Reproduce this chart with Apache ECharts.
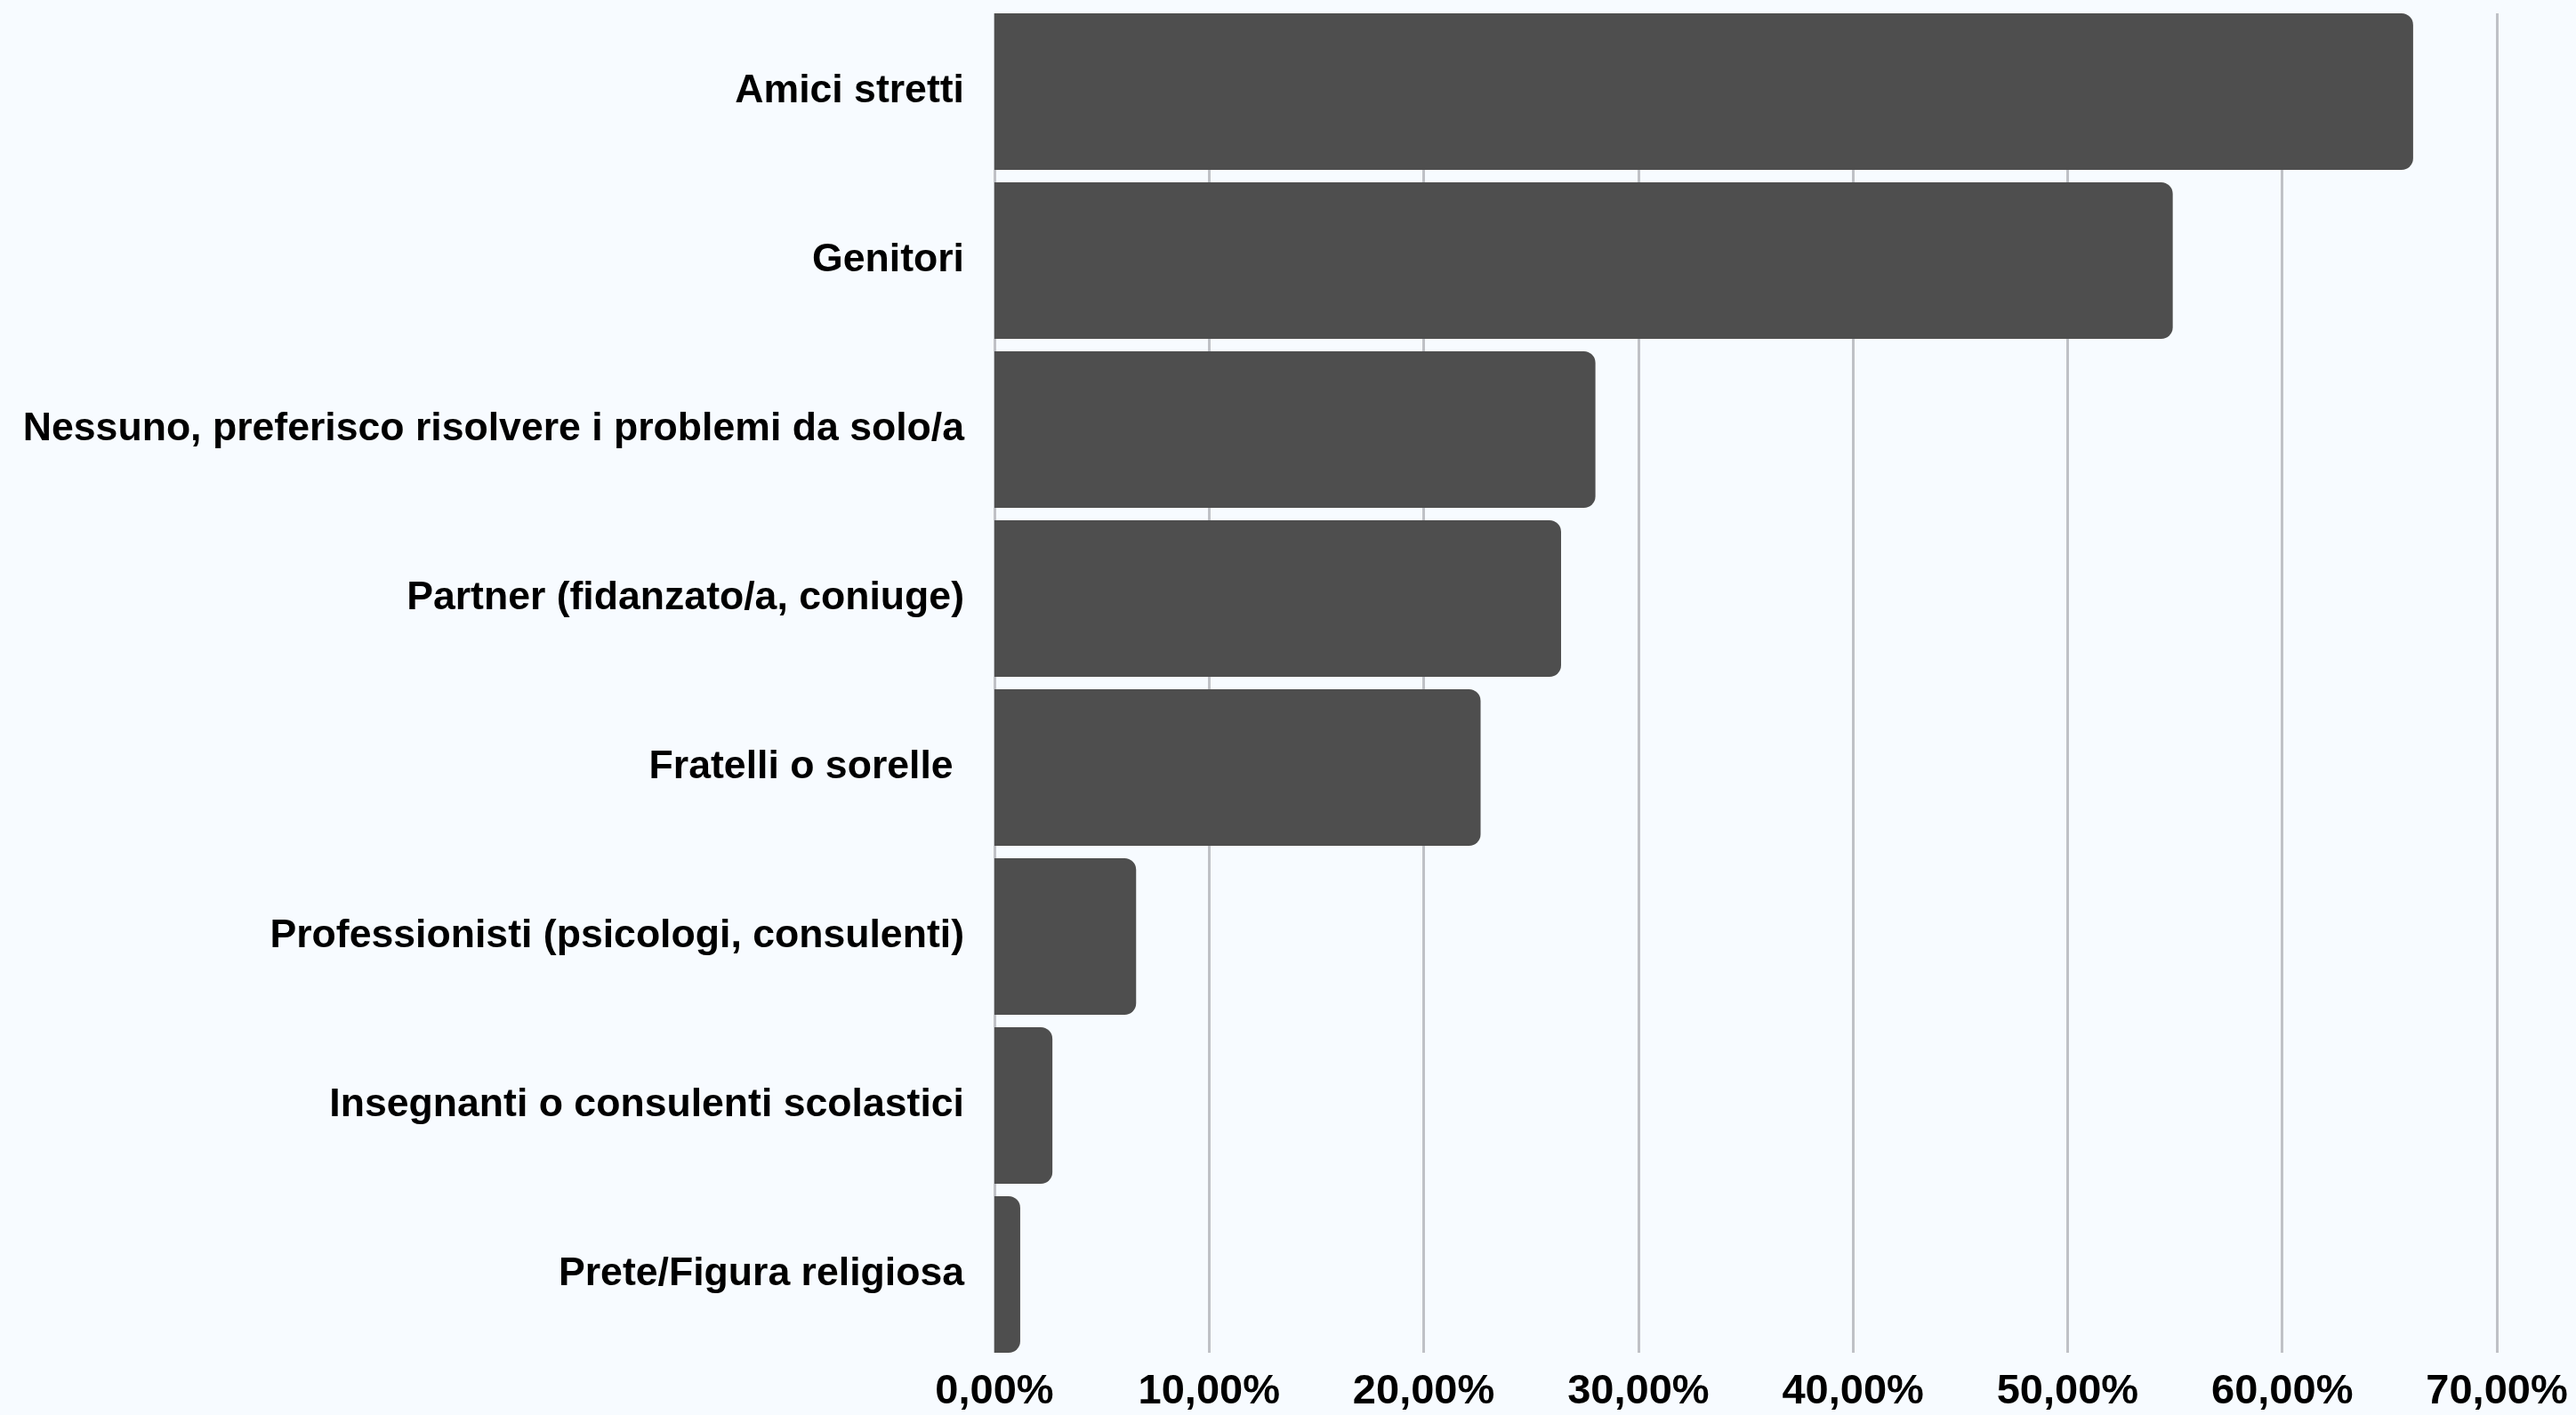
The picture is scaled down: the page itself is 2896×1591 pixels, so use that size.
<!DOCTYPE html>
<html>
<head>
<meta charset="utf-8">
<script src="https://cdn.jsdelivr.net/npm/echarts@6/dist/echarts.min.js"></script>
<style>
html,body{margin:0;padding:0;background:#f7fbff;}
#chart{width:2896px;height:1591px;}
</style>
</head>
<body>
<div id="chart"></div>
<script>
const categories = [
  "Amici stretti",
  "Genitori",
  "Nessuno, preferisco risolvere i problemi da solo/a",
  "Partner (fidanzato/a, coniuge)",
  "Fratelli o sorelle ",
  "Professionisti (psicologi, consulenti)",
  "Insegnanti o consulenti scolastici",
  "Prete/Figura religiosa"
];
const values = [66.1, 54.9, 28.0, 26.4, 22.65, 6.6, 2.7, 1.2];
const axisMin = 0, axisMax = 70, axisStep = 10;

const chart = echarts.init(document.getElementById('chart'));
const fontFam = '"Liberation Sans", Arial, sans-serif';
chart.setOption({
  backgroundColor: '#f7fbff',
  animation: false,
  grid: [
    {left: 1118, right: 89, top: 8, height: 1520, containLabel: false},
    {left: 1118, right: 89, top: 15, height: 1506, containLabel: false}
  ],
  xAxis: [
    {gridIndex: 0, type: 'value', min: axisMin, max: axisMax, interval: axisStep,
     axisLine: {show: false}, axisTick: {show: false}, axisLabel: {show: false}, splitLine: {show: false}},
    {gridIndex: 1, type: 'value', min: axisMin, max: axisMax, interval: axisStep,
     axisLine: {show: false}, axisTick: {show: false},
     splitLine: {show: true, lineStyle: {color: '#bfc1c6', width: 3}},
     axisLabel: {show: true, margin: 21, color: '#000', fontSize: 47, fontWeight: 'bold', fontFamily: fontFam,
       formatter: v => v.toFixed(2).replace('.', ',') + '%'}}
  ],
  yAxis: [
    {gridIndex: 0, type: 'category', data: categories, inverse: true,
     axisLine: {show: false}, axisTick: {show: false}, splitLine: {show: false},
     axisLabel: {margin: 34, color: '#000', fontSize: 44.6, fontWeight: 'bold', fontFamily: fontFam}},
    {gridIndex: 1, type: 'category', data: categories, inverse: true, show: false}
  ],
  series: [
    {type: 'bar', xAxisIndex: 0, yAxisIndex: 0, data: values, barCategoryGap: '7.4%',
     itemStyle: {color: '#4e4e4e', borderRadius: [0, 13, 13, 0]}, z: 3}
  ]
});
</script>
</body>
</html>
